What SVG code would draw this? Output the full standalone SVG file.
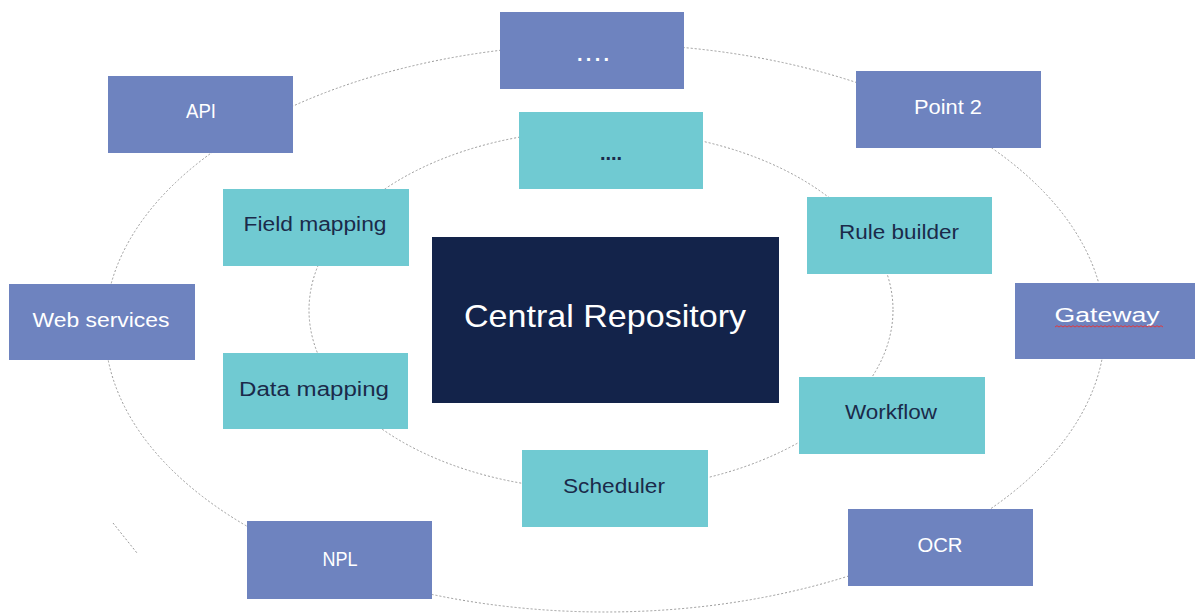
<svg xmlns="http://www.w3.org/2000/svg" width="1195" height="613" viewBox="0 0 1195 613">
<style>
.ring{fill:none;stroke:#9a9a9a;stroke-width:1;stroke-dasharray:2 2}
.outer{fill:#6e83bf}
.inner{fill:#70cad2}
.core{fill:#13234a}
.lw{font-family:"Liberation Sans","Noto Sans",Arial,sans-serif;font-size:20px;fill:#ffffff;text-anchor:middle}
.ld{font-family:"Liberation Sans","Noto Sans",Arial,sans-serif;font-size:20px;fill:#1b2a4a;text-anchor:middle}
.lc{font-family:"Liberation Sans","Noto Sans",Arial,sans-serif;font-size:32px;fill:#ffffff;text-anchor:middle}
</style>
<rect width="1195" height="613" fill="#ffffff"/>
<g id="connectors">
<ellipse class="ring" cx="605" cy="328" rx="500" ry="284"/>
<ellipse class="ring" cx="601" cy="310" rx="292" ry="180"/>
<line class="ring" x1="113" y1="523" x2="137" y2="553"/>
</g>
<g id="node-central">
<rect class="core" x="432" y="237" width="347" height="166"/>
<text class="lc" x="605" y="327" textLength="282" lengthAdjust="spacingAndGlyphs">Central Repository</text>
</g>
<g id="node-outer-dots">
<rect class="outer" x="500" y="12" width="184" height="77"/>
<text class="lw" x="593" y="61" font-weight="bold" textLength="32" lengthAdjust="spacing">....</text>
</g>
<g id="node-api">
<rect class="outer" x="108" y="76" width="185" height="77"/>
<text class="lw" x="201" y="118" textLength="30" lengthAdjust="spacingAndGlyphs">API</text>
</g>
<g id="node-point2">
<rect class="outer" x="856" y="71" width="185" height="77"/>
<text class="lw" x="948" y="114" textLength="68" lengthAdjust="spacingAndGlyphs">Point 2</text>
</g>
<g id="node-web-services">
<rect class="outer" x="9" y="284" width="186" height="76"/>
<text class="lw" x="101" y="327" textLength="137" lengthAdjust="spacingAndGlyphs">Web services</text>
</g>
<g id="node-gateway">
<rect class="outer" x="1015" y="283" width="180" height="76"/>
<text class="lw" x="1107" y="322" textLength="105" lengthAdjust="spacingAndGlyphs">Gateway</text>
<path d="M1055,327 l2,-1.3 2,1.3 2,-1.3 2,1.3 2,-1.3 2,1.3 2,-1.3 2,1.3 2,-1.3 2,1.3 2,-1.3 2,1.3 2,-1.3 2,1.3 2,-1.3 2,1.3 2,-1.3 2,1.3 2,-1.3 2,1.3 2,-1.3 2,1.3 2,-1.3 2,1.3 2,-1.3 2,1.3 2,-1.3 2,1.3 2,-1.3 2,1.3 2,-1.3 2,1.3 2,-1.3 2,1.3 2,-1.3 2,1.3 2,-1.3 2,1.3 2,-1.3 2,1.3 2,-1.3 2,1.3 2,-1.3 2,1.3 2,-1.3 2,1.3 2,-1.3 2,1.3 2,-1.3 2,1.3 2,-1.3 2,1.3 2,-1.3 2,1.3" fill="none" stroke="#e0393e" stroke-width="1"/>
</g>
<g id="node-npl">
<rect class="outer" x="247" y="521" width="185" height="78"/>
<text class="lw" x="340" y="566" textLength="35" lengthAdjust="spacingAndGlyphs">NPL</text>
</g>
<g id="node-ocr">
<rect class="outer" x="848" y="509" width="185" height="77"/>
<text class="lw" x="940" y="552" textLength="45" lengthAdjust="spacingAndGlyphs">OCR</text>
</g>
<g id="node-inner-dots">
<rect class="inner" x="519" y="112" width="184" height="77"/>
<text class="ld" x="611" y="160" font-weight="bold" textLength="22" lengthAdjust="spacing">....</text>
</g>
<g id="node-field-mapping">
<rect class="inner" x="223" y="189" width="186" height="77"/>
<text class="ld" x="315" y="231" textLength="143" lengthAdjust="spacingAndGlyphs">Field mapping</text>
</g>
<g id="node-rule-builder">
<rect class="inner" x="807" y="197" width="185" height="77"/>
<text class="ld" x="899" y="239" textLength="120" lengthAdjust="spacingAndGlyphs">Rule builder</text>
</g>
<g id="node-data-mapping">
<rect class="inner" x="223" y="353" width="185" height="76"/>
<text class="ld" x="314" y="396" textLength="150" lengthAdjust="spacingAndGlyphs">Data mapping</text>
</g>
<g id="node-workflow">
<rect class="inner" x="799" y="377" width="186" height="77"/>
<text class="ld" x="891" y="419" textLength="92" lengthAdjust="spacingAndGlyphs">Workflow</text>
</g>
<g id="node-scheduler">
<rect class="inner" x="522" y="450" width="186" height="77"/>
<text class="ld" x="614" y="493" textLength="102" lengthAdjust="spacingAndGlyphs">Scheduler</text>
</g>
</svg>
